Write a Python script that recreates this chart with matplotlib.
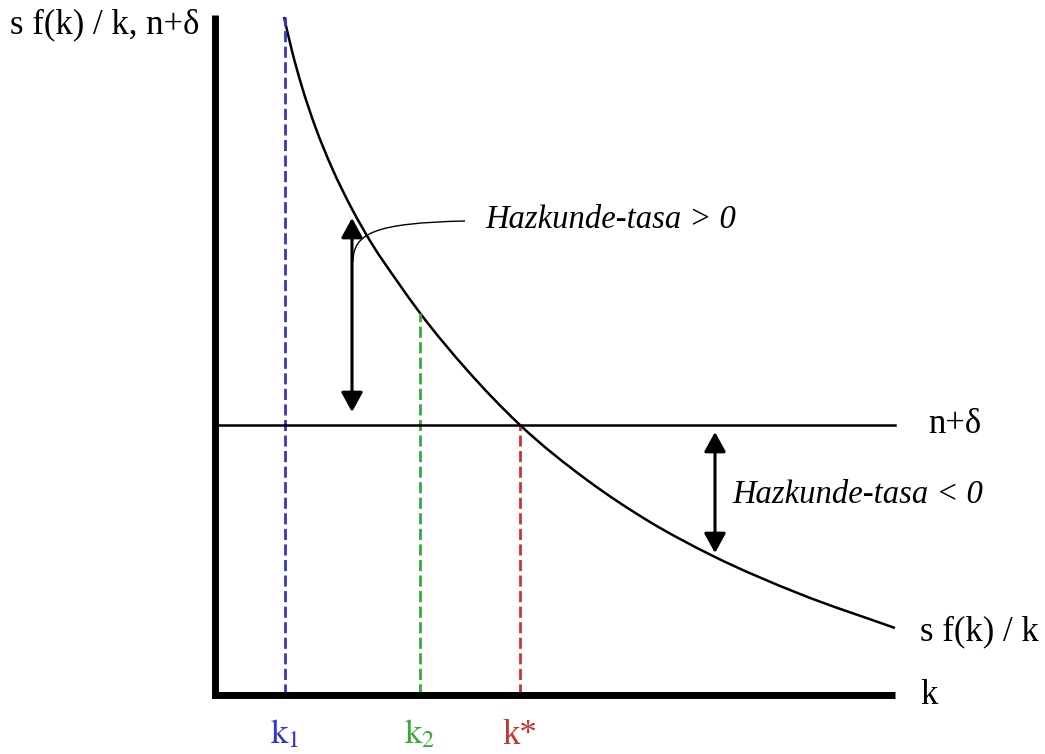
import matplotlib.pyplot as plt
from matplotlib.path import Path
from matplotlib.patches import PathPatch

plt.rcParams['font.family'] = ['Liberation Serif', 'DejaVu Serif']
plt.rcParams['mathtext.fontset'] = 'stix'

# savings curve s f(k) / k
k_curve = [0.69, 0.77, 0.87, 1.00, 1.17, 1.37, 1.57, 1.82, 2.05, 2.52, 3.05, 3.72, 4.35, 4.98, 5.85, 6.80]
y_curve = [6.78, 6.44, 6.08, 5.69, 5.27, 4.86, 4.51, 4.14, 3.82, 3.25, 2.70, 2.15, 1.73, 1.39, 1.01, 0.67]

# n + delta
n_delta = 2.70
axis_max = 6.80

# marked capital levels
k_marks = [0.70, 2.05, 3.05]
k_tops = [6.78, 3.82, 2.70]
k_labels = [r'$\mathrm{k}_1$', r'$\mathrm{k}_2$', 'k*']
k_colors = ['#3535cc', '#3aa83a', '#c83434']

# growth arrows (k, bottom, top)
arrow_pos = [(1.37, 2.83, 4.77), (5.0, 1.42, 2.63)]


def smooth_path(xs, ys):
    # cubic Hermite through the points in x, drawn as Bezier segments
    n = len(xs)
    sec = [(ys[i + 1] - ys[i]) / (xs[i + 1] - xs[i]) for i in range(n - 1)]
    m = [sec[0]]
    for i in range(1, n - 1):
        h0 = xs[i] - xs[i - 1]
        h1 = xs[i + 1] - xs[i]
        m.append((sec[i - 1] * h1 + sec[i] * h0) / (h0 + h1))
    m.append(sec[-1])
    verts = [(xs[0], ys[0])]
    codes = [Path.MOVETO]
    for i in range(n - 1):
        h = xs[i + 1] - xs[i]
        verts += [(xs[i] + h / 3, ys[i] + m[i] * h / 3),
                  (xs[i + 1] - h / 3, ys[i + 1] - m[i + 1] * h / 3),
                  (xs[i + 1], ys[i + 1])]
        codes += [Path.CURVE4] * 3
    return Path(verts, codes)


fig = plt.figure(figsize=(10.45, 7.54), dpi=100)
ax = fig.add_axes([0, 0, 1, 1])
ax.set_xlim(-2.15, 8.30)
ax.set_ylim(-0.59, 6.95)
ax.axis('off')

# axes
ax.plot([0, 0, axis_max], [axis_max, 0, 0], color='black', lw=5,
        solid_joinstyle='miter', solid_capstyle='butt', zorder=5)

# dashed verticals
for kv, top, col in zip(k_marks, k_tops, k_colors):
    ax.plot([kv, kv], [0, top], color=col, lw=2, ls=(0, (4, 1.6)))

ax.plot([0, axis_max], [n_delta, n_delta], color='black', lw=1.8)
ax.add_patch(PathPatch(smooth_path(k_curve, y_curve), fill=False, lw=1.8, color='black'))

for kv, lo, hi in arrow_pos:
    ax.annotate('', xy=(kv, hi), xytext=(kv, lo),
                arrowprops=dict(arrowstyle='<|-|>,head_length=0.6,head_width=0.33',
                                color='black', lw=2.2, mutation_scale=20,
                                shrinkA=0, shrinkB=0))

# connector from upper arrow to its label
verts = [(1.38, 4.33), (1.38, 4.62), (1.60, 4.72), (2.50, 4.74)]
codes = [Path.MOVETO, Path.CURVE4, Path.CURVE4, Path.CURVE4]
ax.add_patch(PathPatch(Path(verts, codes), fill=False, lw=1.0, color='black'))

fs = 25
fs_it = 23.5
ax.text(-2.05, 6.70, 's f(k) / k, n+δ', fontsize=fs, va='center', ha='left')
ax.text(2.70, 4.75, 'Hazkunde-tasa > 0', fontsize=fs_it, style='italic', va='center', ha='left')
ax.text(5.17, 2.00, 'Hazkunde-tasa < 0', fontsize=fs_it, style='italic', va='center', ha='left')
ax.text(7.13, 2.70, 'n+δ', fontsize=fs, va='center', ha='left')
ax.text(7.05, 0.63, 's f(k) / k', fontsize=fs, va='center', ha='left')
ax.text(7.05, 0.0, 'k', fontsize=fs, va='center', ha='left')

for kv, lab, col in zip(k_marks, k_labels, k_colors):
    ax.text(kv, -0.40, lab, fontsize=fs, color=col, va='center', ha='center')

fig.savefig('out.png', dpi=100)
